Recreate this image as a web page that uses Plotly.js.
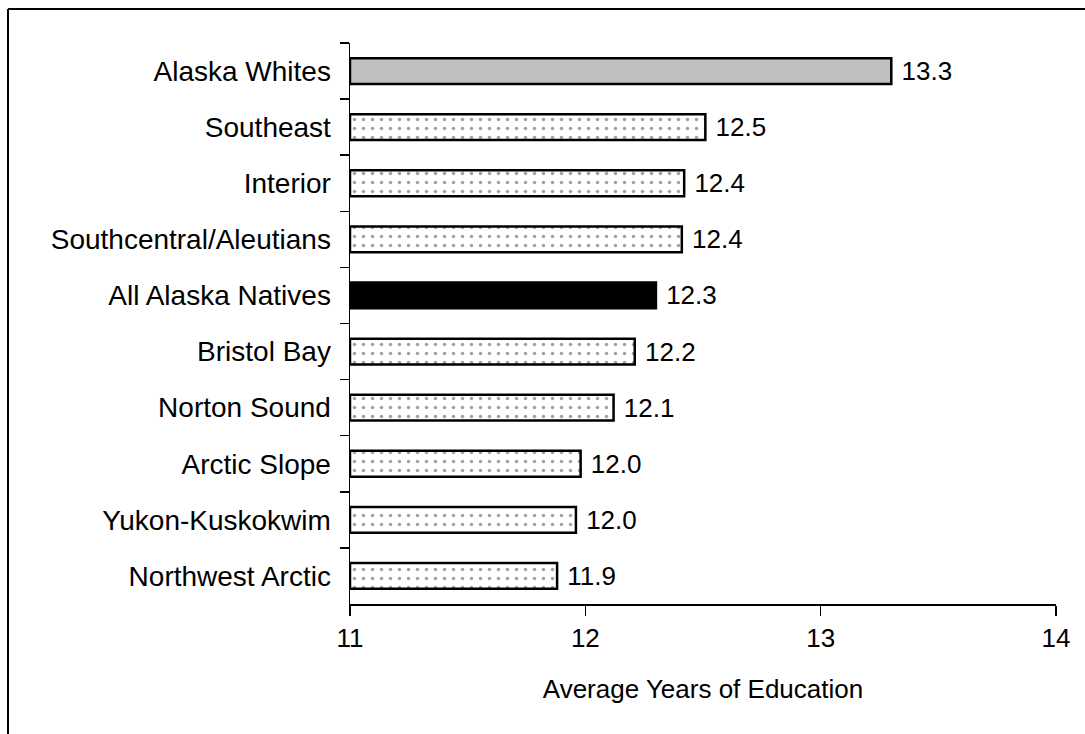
<!DOCTYPE html>
<html>
<head>
<meta charset="utf-8">
<script src="https://cdn.plot.ly/plotly-3.0.1.min.js"></script>
<style>
html,body{margin:0;padding:0;background:#fff;}
#chart{width:1085px;height:734px;}
</style>
</head>
<body>
<div id="chart"></div>
<script>
// Data (top to bottom)
const categories = ["Alaska Whites","Southeast","Interior","Southcentral/Aleutians","All Alaska Natives","Bristol Bay","Norton Sound","Arctic Slope","Yukon-Kuskokwim","Northwest Arctic"];
const values = [13.30, 12.51, 12.42, 12.41, 12.30, 12.21, 12.12, 11.98, 11.96, 11.88];
const valueLabels = ["13.3","12.5","12.4","12.4","12.3","12.2","12.1","12.0","12.0","11.9"];
const xTicks = [11, 12, 13, 14];
const axisMin = 11;

// Styles
function fillFor(c){ return c === "Alaska Whites" ? "#c0c0c0" : (c === "All Alaska Natives" ? "#000000" : "#ffffff"); }
function shapeFor(c){ return (c === "Alaska Whites" || c === "All Alaska Natives") ? "" : "."; }

const FONT = "Liberation Sans, Arial, sans-serif";
const FS = 26;

const trace = {
  type: "bar",
  orientation: "h",
  y: categories,
  x: values.map(v => v - axisMin),
  base: axisMin,
  text: valueLabels,
  textposition: "outside",
  texttemplate: " %{text}",
  constraintext: "none",
  cliponaxis: false,
  textfont: {family: FONT, size: FS, color: "#000"},
  marker: {
    color: categories.map(fillFor),
    line: {color: "#000", width: 2.5},
    pattern: {
      shape: categories.map(shapeFor),
      fgcolor: "#000",
      bgcolor: categories.map(fillFor),
      size: 9,
      solidity: 0.12,
      fillmode: "overlay"
    }
  },
  hoverinfo: "none"
};

const layout = {
  width: 1085,
  height: 734,
  margin: {l: 350, r: 29, t: 43, b: 130},
  paper_bgcolor: "#fff",
  plot_bgcolor: "#fff",
  showlegend: false,
  bargap: 0.54,
  font: {family: FONT, size: FS, color: "#000"},
  xaxis: {
    range: [11, 14],
    tickvals: xTicks,
    ticktext: xTicks.map(String),
    ticks: "outside",
    ticklen: 10,
    tickwidth: 1.5,
    tickcolor: "#000",
    showline: true,
    linecolor: "#000",
    linewidth: 1.5,
    showgrid: false,
    zeroline: false,
    tickfont: {family: FONT, size: FS, color: "#000"},
    title: {text: "Average Years of Education", font: {family: FONT, size: FS, color: "#000"}, standoff: 28}
  },
  yaxis: {
    autorange: "reversed",
    type: "category",
    ticks: "outside",
    tickson: "boundaries",
    ticklen: 9,
    tickwidth: 1.5,
    tickcolor: "#000",
    showline: true,
    linecolor: "#000",
    linewidth: 1.5,
    showgrid: false,
    zeroline: false,
    ticklabelstandoff: 12,
    tickfont: {family: FONT, size: 28, color: "#000"}
  },
  shapes: [
    {type: "line", xref: "paper", yref: "paper", x0: -0.4844, x1: 1.05, y0: 1.0606, y1: 1.0606, line: {color: "#000", width: 2}},
    {type: "line", xref: "paper", yref: "paper", x0: -0.4844, x1: -0.4844, y0: 1.0606, y1: -0.25, line: {color: "#000", width: 2}}
  ]
};

Plotly.newPlot("chart", [trace], layout, {displayModeBar: false, staticPlot: true});
</script>
</body>
</html>
